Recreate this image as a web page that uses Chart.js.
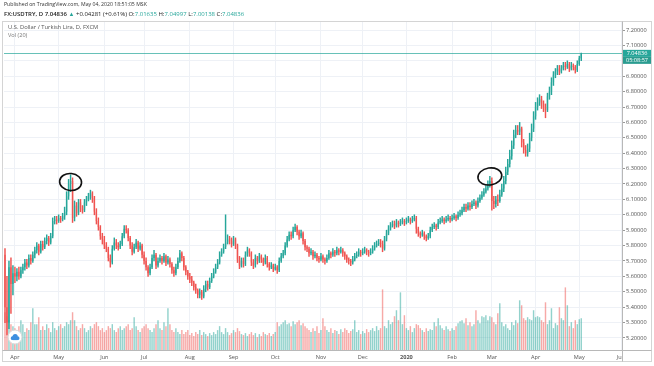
<!DOCTYPE html>
<html>
<head>
<meta charset="utf-8">
<script src="https://cdn.jsdelivr.net/npm/chart.js@4.4.1/dist/chart.umd.min.js"></script>
<style>
  html, body { margin: 0; padding: 0; background: #fff; }
  #wrap { position: relative; width: 654px; height: 366px; overflow: hidden; font-family: "Open Sans", sans-serif; }
  #chart { position: absolute; left: 0; top: 0; }
  .txt { position: absolute; white-space: nowrap; line-height: 1; }
  #pub { left: 4px; top: 2px; font-size: 5.2px; color: #333; }
  #sym { left: 4px; top: 10.5px; font-size: 6px; color: #222; }
  #sym b { font-weight: 600; }
  .up { color: #26a69a; }
  #title { left: 8px; top: 25px; font-size: 5.8px; color: #555; }
  #vol { left: 8px; top: 32.5px; font-size: 5.6px; color: #777; }
</style>
</head>
<body>
<div id="wrap">
  <canvas id="chart" width="654" height="366"></canvas>
  <div class="txt" id="pub">Published on TradingView.com, May 04, 2020 18:51:05 MSK</div>
  <div class="txt" id="sym"><b>FX:USDTRY, D 7.04836</b> <span class="up">▲</span> +0.04281 (+0.61%) O:<span class="up">7.01635</span> H:<span class="up">7.04997</span> L:<span class="up">7.00138</span> C:<span class="up">7.04836</span></div>
  <div class="txt" id="title">U.S. Dollar / Turkish Lira, D, FXCM</div>
  <div class="txt" id="vol">Vol (20)</div>
</div>
<script>
// daily candles, Mar 25 2019 .. May 4 2020 (weekdays)
const opens = [
  5.74, 5.40, 5.30, 5.66, 5.55, 5.62, 5.60, 5.63, 5.60, 5.64,
  5.66, 5.69, 5.67, 5.72, 5.70, 5.74, 5.77, 5.80, 5.76, 5.81,
  5.79, 5.83, 5.85, 5.82, 5.86, 5.96, 5.97, 5.96, 5.98, 5.97,
  5.99, 6.02, 6.12, 6.20, 6.22, 5.98, 6.06, 6.01, 6.08, 6.04,
  6.03, 6.08, 6.10, 6.12, 6.14, 6.11, 6.02, 5.96, 5.92, 5.86,
  5.84, 5.80, 5.78, 5.72, 5.69, 5.78, 5.82, 5.80, 5.79, 5.81,
  5.86, 5.91, 5.90, 5.85, 5.80, 5.76, 5.79, 5.82, 5.78, 5.80,
  5.74, 5.70, 5.66, 5.62, 5.66, 5.72, 5.74, 5.67, 5.70, 5.72,
  5.70, 5.73, 5.69, 5.71, 5.68, 5.64, 5.62, 5.66, 5.70, 5.75,
  5.72, 5.66, 5.63, 5.60, 5.58, 5.56, 5.53, 5.51, 5.48, 5.50,
  5.47, 5.52, 5.55, 5.53, 5.57, 5.60, 5.63, 5.66, 5.69, 5.74,
  5.76, 5.79, 5.82, 5.84, 5.83, 5.81, 5.84, 5.80, 5.71, 5.67,
  5.70, 5.68, 5.74, 5.77, 5.75, 5.69, 5.67, 5.72, 5.70, 5.73,
  5.71, 5.69, 5.72, 5.68, 5.66, 5.67, 5.65, 5.66, 5.64, 5.70,
  5.73, 5.75, 5.80, 5.84, 5.87, 5.86, 5.90, 5.92, 5.89, 5.86,
  5.88, 5.83, 5.79, 5.78, 5.75, 5.76, 5.73, 5.74, 5.72, 5.71,
  5.73, 5.71, 5.70, 5.72, 5.75, 5.74, 5.76, 5.75, 5.77, 5.76,
  5.77, 5.75, 5.73, 5.71, 5.70, 5.69, 5.71, 5.73, 5.74, 5.76,
  5.75, 5.76, 5.77, 5.76, 5.75, 5.76, 5.78, 5.80, 5.81, 5.82,
  5.81, 5.78, 5.84, 5.88, 5.91, 5.93, 5.94, 5.93, 5.95, 5.94,
  5.95, 5.96, 5.95, 5.96, 5.97, 5.96, 5.97, 5.98, 5.91, 5.88,
  5.87, 5.88, 5.86, 5.85, 5.86, 5.90, 5.92, 5.93, 5.92, 5.95,
  5.96, 5.97, 5.96, 5.97, 5.98, 5.97, 5.98, 5.99, 5.98, 6.00,
  6.01, 6.03, 6.05, 6.04, 6.06, 6.05, 6.07, 6.08, 6.06, 6.09,
  6.11, 6.13, 6.15, 6.17, 6.20, 6.22, 6.09, 6.07, 6.10, 6.09,
  6.13, 6.17, 6.22, 6.28, 6.33, 6.38, 6.45, 6.52, 6.55, 6.54,
  6.56, 6.47, 6.42, 6.40, 6.43, 6.50, 6.56, 6.64, 6.70, 6.73,
  6.75, 6.72, 6.70, 6.68, 6.77, 6.80, 6.86, 6.91, 6.93, 6.95,
  6.93, 6.95, 6.97, 6.96, 6.98, 6.95, 6.97, 6.96, 6.94, 6.98, 7.016,
];
const highs = [
  5.78, 5.60, 5.70, 5.72, 5.67, 5.66, 5.65, 5.66, 5.66, 5.68,
  5.71, 5.71, 5.74, 5.74, 5.76, 5.79, 5.82, 5.81, 5.83, 5.83,
  5.85, 5.87, 5.86, 5.88, 5.98, 5.99, 5.99, 6.00, 5.99, 6.01,
  6.05, 6.15, 6.23, 6.26, 6.24, 6.09, 6.08, 6.10, 6.10, 6.06,
  6.10, 6.12, 6.14, 6.16, 6.15, 6.12, 6.04, 5.98, 5.93, 5.88,
  5.86, 5.82, 5.79, 5.74, 5.80, 5.85, 5.84, 5.82, 5.83, 5.88,
  5.93, 5.93, 5.91, 5.86, 5.82, 5.81, 5.84, 5.83, 5.82, 5.81,
  5.76, 5.72, 5.67, 5.68, 5.74, 5.77, 5.75, 5.72, 5.74, 5.73,
  5.75, 5.74, 5.73, 5.72, 5.69, 5.66, 5.68, 5.72, 5.77, 5.76,
  5.73, 5.67, 5.64, 5.62, 5.60, 5.57, 5.55, 5.52, 5.52, 5.51,
  5.54, 5.57, 5.57, 5.59, 5.62, 5.65, 5.68, 5.71, 5.76, 5.78,
  5.81, 6.00, 5.87, 5.86, 5.85, 5.86, 5.85, 5.81, 5.73, 5.72,
  5.72, 5.76, 5.79, 5.78, 5.76, 5.71, 5.74, 5.73, 5.75, 5.74,
  5.72, 5.74, 5.73, 5.69, 5.69, 5.68, 5.68, 5.67, 5.72, 5.75,
  5.77, 5.82, 5.86, 5.89, 5.89, 5.92, 5.94, 5.93, 5.90, 5.90,
  5.89, 5.84, 5.80, 5.79, 5.78, 5.77, 5.76, 5.75, 5.73, 5.75,
  5.74, 5.72, 5.74, 5.77, 5.76, 5.78, 5.77, 5.79, 5.78, 5.79,
  5.78, 5.76, 5.74, 5.72, 5.71, 5.73, 5.75, 5.76, 5.78, 5.77,
  5.78, 5.79, 5.78, 5.77, 5.78, 5.80, 5.82, 5.83, 5.84, 5.84,
  5.83, 5.86, 5.90, 5.93, 5.95, 5.96, 5.96, 5.97, 5.96, 5.97,
  5.98, 5.97, 5.98, 5.99, 5.98, 5.99, 6.00, 5.99, 5.92, 5.89,
  5.90, 5.89, 5.87, 5.88, 5.92, 5.94, 5.95, 5.94, 5.97, 5.98,
  5.99, 5.98, 5.99, 6.00, 5.99, 6.00, 6.01, 6.00, 6.02, 6.03,
  6.05, 6.07, 6.07, 6.08, 6.08, 6.09, 6.10, 6.09, 6.11, 6.13,
  6.15, 6.17, 6.19, 6.22, 6.25, 6.24, 6.12, 6.12, 6.13, 6.16,
  6.20, 6.25, 6.31, 6.36, 6.42, 6.48, 6.55, 6.58, 6.58, 6.60,
  6.57, 6.49, 6.45, 6.46, 6.53, 6.59, 6.67, 6.73, 6.76, 6.78,
  6.77, 6.74, 6.72, 6.79, 6.83, 6.89, 6.93, 6.95, 6.97, 6.97,
  6.97, 6.99, 6.99, 7.00, 6.99, 6.99, 6.98, 6.97, 7.00, 7.03, 7.050,
];
const lows = [
  5.30, 5.22, 5.26, 5.36, 5.48, 5.56, 5.57, 5.58, 5.59, 5.62,
  5.64, 5.65, 5.66, 5.68, 5.69, 5.72, 5.75, 5.74, 5.75, 5.77,
  5.78, 5.81, 5.80, 5.81, 5.85, 5.94, 5.94, 5.95, 5.95, 5.96,
  5.97, 6.00, 6.10, 6.15, 5.95, 5.96, 5.99, 6.00, 6.02, 6.01,
  6.02, 6.06, 6.09, 6.10, 6.08, 6.00, 5.94, 5.90, 5.84, 5.81,
  5.78, 5.76, 5.70, 5.66, 5.68, 5.77, 5.78, 5.77, 5.78, 5.80,
  5.85, 5.88, 5.83, 5.78, 5.74, 5.75, 5.78, 5.76, 5.77, 5.72,
  5.68, 5.64, 5.60, 5.61, 5.65, 5.70, 5.65, 5.66, 5.69, 5.68,
  5.69, 5.67, 5.68, 5.66, 5.62, 5.60, 5.61, 5.65, 5.69, 5.70,
  5.64, 5.61, 5.58, 5.56, 5.54, 5.51, 5.49, 5.46, 5.46, 5.45,
  5.46, 5.50, 5.51, 5.52, 5.56, 5.59, 5.62, 5.65, 5.68, 5.73,
  5.75, 5.78, 5.81, 5.81, 5.79, 5.80, 5.78, 5.69, 5.65, 5.66,
  5.66, 5.67, 5.73, 5.73, 5.67, 5.65, 5.66, 5.68, 5.69, 5.69,
  5.67, 5.68, 5.66, 5.64, 5.65, 5.63, 5.64, 5.62, 5.63, 5.69,
  5.72, 5.74, 5.79, 5.83, 5.84, 5.85, 5.89, 5.87, 5.84, 5.85,
  5.81, 5.77, 5.76, 5.73, 5.74, 5.71, 5.72, 5.70, 5.69, 5.70,
  5.69, 5.68, 5.69, 5.71, 5.72, 5.73, 5.73, 5.74, 5.74, 5.75,
  5.73, 5.71, 5.69, 5.68, 5.67, 5.68, 5.70, 5.72, 5.73, 5.73,
  5.74, 5.75, 5.74, 5.73, 5.74, 5.75, 5.77, 5.79, 5.80, 5.79,
  5.76, 5.77, 5.83, 5.87, 5.90, 5.92, 5.91, 5.92, 5.92, 5.93,
  5.94, 5.93, 5.94, 5.95, 5.94, 5.95, 5.96, 5.88, 5.86, 5.85,
  5.86, 5.84, 5.83, 5.84, 5.85, 5.89, 5.91, 5.90, 5.91, 5.94,
  5.95, 5.94, 5.95, 5.96, 5.95, 5.96, 5.97, 5.96, 5.97, 5.99,
  6.00, 6.02, 6.02, 6.03, 6.03, 6.04, 6.06, 6.04, 6.05, 6.08,
  6.10, 6.12, 6.14, 6.16, 6.18, 6.03, 6.04, 6.05, 6.06, 6.08,
  6.12, 6.15, 6.20, 6.26, 6.31, 6.36, 6.43, 6.50, 6.52, 6.52,
  6.44, 6.40, 6.38, 6.38, 6.41, 6.48, 6.54, 6.62, 6.68, 6.71,
  6.69, 6.67, 6.63, 6.67, 6.75, 6.78, 6.84, 6.89, 6.91, 6.91,
  6.92, 6.94, 6.94, 6.95, 6.93, 6.94, 6.94, 6.92, 6.93, 6.97, 7.001,
];
const closes = [
  5.40, 5.30, 5.66, 5.55, 5.62, 5.60, 5.63, 5.60, 5.64, 5.66,
  5.69, 5.67, 5.72, 5.70, 5.74, 5.77, 5.80, 5.76, 5.81, 5.79,
  5.83, 5.85, 5.82, 5.86, 5.96, 5.97, 5.96, 5.98, 5.97, 5.99,
  6.02, 6.12, 6.20, 6.22, 5.98, 6.06, 6.01, 6.08, 6.04, 6.03,
  6.08, 6.10, 6.12, 6.14, 6.11, 6.02, 5.96, 5.92, 5.86, 5.84,
  5.80, 5.78, 5.72, 5.69, 5.78, 5.82, 5.80, 5.79, 5.81, 5.86,
  5.91, 5.90, 5.85, 5.80, 5.76, 5.79, 5.82, 5.78, 5.80, 5.74,
  5.70, 5.66, 5.62, 5.66, 5.72, 5.74, 5.67, 5.70, 5.72, 5.70,
  5.73, 5.69, 5.71, 5.68, 5.64, 5.62, 5.66, 5.70, 5.75, 5.72,
  5.66, 5.63, 5.60, 5.58, 5.56, 5.53, 5.51, 5.48, 5.50, 5.47,
  5.52, 5.55, 5.53, 5.57, 5.60, 5.63, 5.66, 5.69, 5.74, 5.76,
  5.79, 5.82, 5.84, 5.83, 5.81, 5.84, 5.80, 5.71, 5.67, 5.70,
  5.68, 5.74, 5.77, 5.75, 5.69, 5.67, 5.72, 5.70, 5.73, 5.71,
  5.69, 5.72, 5.68, 5.66, 5.67, 5.65, 5.66, 5.64, 5.70, 5.73,
  5.75, 5.80, 5.84, 5.87, 5.86, 5.90, 5.92, 5.89, 5.86, 5.88,
  5.83, 5.79, 5.78, 5.75, 5.76, 5.73, 5.74, 5.72, 5.71, 5.73,
  5.71, 5.70, 5.72, 5.75, 5.74, 5.76, 5.75, 5.77, 5.76, 5.77,
  5.75, 5.73, 5.71, 5.70, 5.69, 5.71, 5.73, 5.74, 5.76, 5.75,
  5.76, 5.77, 5.76, 5.75, 5.76, 5.78, 5.80, 5.81, 5.82, 5.81,
  5.78, 5.84, 5.88, 5.91, 5.93, 5.94, 5.93, 5.95, 5.94, 5.95,
  5.96, 5.95, 5.96, 5.97, 5.96, 5.97, 5.98, 5.91, 5.88, 5.87,
  5.88, 5.86, 5.85, 5.86, 5.90, 5.92, 5.93, 5.92, 5.95, 5.96,
  5.97, 5.96, 5.97, 5.98, 5.97, 5.98, 5.99, 5.98, 6.00, 6.01,
  6.03, 6.05, 6.04, 6.06, 6.05, 6.07, 6.08, 6.06, 6.09, 6.11,
  6.13, 6.15, 6.17, 6.20, 6.22, 6.09, 6.07, 6.10, 6.09, 6.13,
  6.17, 6.22, 6.28, 6.33, 6.38, 6.45, 6.52, 6.55, 6.54, 6.56,
  6.47, 6.42, 6.40, 6.43, 6.50, 6.56, 6.64, 6.70, 6.73, 6.75,
  6.72, 6.70, 6.68, 6.77, 6.80, 6.86, 6.91, 6.93, 6.95, 6.93,
  6.95, 6.97, 6.96, 6.98, 6.95, 6.97, 6.96, 6.94, 6.98, 7.016, 7.048,
];
// Vol (20) pane, relative units
const volumes = [
  38, 34, 30, 26, 24, 22, 20, 24, 30, 26,
  18, 22, 20, 28, 42, 26, 26, 33, 20, 24,
  20, 26, 22, 18, 28, 22, 20, 24, 26, 22,
  24, 28, 26, 30, 38, 30, 24, 20, 22, 26,
  22, 18, 20, 24, 22, 26, 28, 24, 20, 22,
  18, 20, 24, 22, 26, 20, 18, 22, 24, 20,
  22, 24, 26, 20, 22, 33, 24, 20, 18, 22,
  24, 26, 22, 20, 18, 22, 26, 30, 22, 20,
  28, 24, 42, 26, 20, 18, 22, 18, 16, 20,
  16, 18, 20, 15, 17, 14, 18, 16, 20, 15,
  18, 16, 14, 17, 15, 18, 16, 20, 24, 18,
  16, 22, 18, 15, 17, 20, 18, 22, 19, 16,
  15, 17, 14, 16, 18, 15, 17, 13, 16, 14,
  18, 16, 15, 17, 14, 16, 18, 28, 24, 26,
  28, 30, 26, 27, 24, 29, 26, 28, 30, 25,
  27, 24, 22, 20, 18, 22, 19, 24, 17, 20,
  32, 24, 20, 18, 22, 17, 20, 19, 16, 21,
  18, 22, 20, 17, 19, 21, 30, 18, 20, 16,
  19, 17, 21, 18, 20, 22, 19, 24, 20, 22,
  61, 24, 22, 30, 26, 28, 34, 40, 30, 58,
  26, 35, 22, 20, 24, 18, 22, 26, 25, 22,
  20, 18, 22, 19, 21, 20, 28, 24, 32, 25,
  22, 20, 24, 21, 19, 22, 20, 24, 27, 29,
  30, 27, 32, 25, 28, 24, 26, 40, 30, 27,
  34, 33, 35, 30, 34, 33, 28, 26, 37, 47,
  28, 24, 26, 22, 20, 28, 25, 30, 27, 50,
  45, 32, 30, 33, 31, 30, 40, 33, 34, 33,
  30, 28, 48, 26, 30, 42, 22, 27, 25, 43,
  32, 30, 63, 45, 24, 28, 22, 30, 26, 31, 32,
];

// time axis: one slot per weekday, with room up to Jun 1 2020
const slotCount = 311;
const monthNames = ["Apr", "May", "Jun", "Jul", "Aug", "Sep", "Oct", "Nov", "Dec", "2020", "Feb", "Mar", "Apr", "May", "Jun"];
const monthSlots = [5, 27, 50, 70, 93, 115, 136, 159, 180, 202, 225, 245, 267, 289, 310];

const priceTicks = { min: 5.2, max: 7.2, step: 0.1 };
const lastPrice = 7.04836;
const countdown = "05:08:57";
// the two hand-drawn circles: [slot, price]
const circles = [[33, 6.213], [244, 6.249]];

const UP = "#26a69a";
const DOWN = "#ef5350";
const UP_VOL = "rgba(38,166,154,0.5)";
const DOWN_VOL = "rgba(239,83,80,0.5)";

const isUp = closes.map((c, i) => c >= opens[i]);
const candleColors = isUp.map((u) => (u ? UP : DOWN));
const volColors = isUp.map((u) => (u ? UP_VOL : DOWN_VOL));

const monthAt = {};
monthSlots.forEach((s, i) => { monthAt[s] = monthNames[i]; });

Chart.defaults.font.family = "'Open Sans', sans-serif";
Chart.defaults.font.size = 5.6;
Chart.defaults.color = "#555";

const decor = {
  id: "decor",
  beforeDatasetsDraw(chart) {
    const { ctx, chartArea: a, scales } = chart;
    const y = Math.round(scales.y.getPixelForValue(lastPrice)) + 0.5;
    ctx.save();
    ctx.strokeStyle = "rgba(38,166,154,0.7)";
    ctx.lineWidth = 1;
    ctx.beginPath();
    ctx.moveTo(a.left, y);
    ctx.lineTo(a.right, y);
    ctx.stroke();
    ctx.restore();
  },
  afterDraw(chart) {
    const { ctx, chartArea: a, scales } = chart;
    ctx.save();

    // hand-drawn circles
    ctx.strokeStyle = "#111";
    ctx.lineWidth = 1.6;
    circles.forEach(([slot, v], k) => {
      const cx = scales.x.getPixelForValue(slot);
      const cy = scales.y.getPixelForValue(v);
      ctx.beginPath();
      ctx.ellipse(cx, cy, k ? 12 : 11, 8.5, k ? -0.15 : 0.1, 0, Math.PI * 2);
      ctx.stroke();
    });

    // price-scale corner panel hides the clipped month label
    ctx.fillStyle = "#fff";
    ctx.fillRect(a.right + 1, a.bottom + 1, 654 - a.right, 366 - a.bottom);

    // frame and pane separators
    ctx.strokeStyle = "#d4d4d4";
    ctx.lineWidth = 1;
    ctx.strokeRect(2.5, 21.5, 649, 340);
    ctx.strokeStyle = "#b8b8b8";
    ctx.beginPath();
    ctx.moveTo(a.right + 0.5, 21.5);
    ctx.lineTo(a.right + 0.5, 361.5);
    ctx.moveTo(2.5, a.bottom + 0.5);
    ctx.lineTo(651.5, a.bottom + 0.5);
    ctx.stroke();

    // last price label
    const py = scales.y.getPixelForValue(lastPrice);
    ctx.fillStyle = UP;
    ctx.fillRect(a.right + 1, py - 3.5, 28, 7);
    ctx.fillStyle = "#2a9c90";
    ctx.fillRect(a.right + 1, py + 3.5, 28, 7);
    ctx.fillStyle = "#fff";
    ctx.font = "5.6px 'Open Sans', sans-serif";
    ctx.textAlign = "center";
    ctx.textBaseline = "middle";
    ctx.fillText(lastPrice.toFixed(5), a.right + 15, py);
    ctx.fillText(countdown, a.right + 15, py + 7);

    // TradingView badge
    ctx.fillStyle = "#fff";
    ctx.strokeStyle = "#d8d8d8";
    ctx.beginPath();
    ctx.arc(15, 337, 7, 0, Math.PI * 2);
    ctx.fill();
    ctx.stroke();
    ctx.fillStyle = "#3d8fe0";
    ctx.beginPath();
    ctx.arc(12.6, 338.2, 1.9, 0, Math.PI * 2);
    ctx.arc(15.2, 336.6, 2.6, 0, Math.PI * 2);
    ctx.arc(17.6, 338.2, 1.9, 0, Math.PI * 2);
    ctx.fill();
    ctx.fillRect(12.6, 338.2, 5, 1.9);
    ctx.restore();
  },
};

new Chart(document.getElementById("chart"), {
  type: "bar",
  data: {
    labels: Array.from({ length: slotCount }, (_, i) => i),
    datasets: [
      {
        label: "Body",
        data: opens.map((o, i) => [o, closes[i]]),
        backgroundColor: candleColors,
        barPercentage: 0.62,
        categoryPercentage: 1,
        minBarLength: 1,
        grouped: false,
        order: 1,
      },
      {
        label: "Wick",
        data: lows.map((l, i) => [l, highs[i]]),
        backgroundColor: candleColors,
        barThickness: 0.8,
        grouped: false,
        order: 2,
      },
      {
        label: "Vol",
        data: volumes,
        yAxisID: "yv",
        backgroundColor: volColors,
        barPercentage: 0.72,
        categoryPercentage: 1,
        grouped: false,
        order: 3,
      },
    ],
  },
  options: {
    responsive: false,
    animation: false,
    devicePixelRatio: 1,
    layout: { padding: { top: 22, left: 4, right: 0, bottom: 0 } },
    plugins: { legend: { display: false }, tooltip: { enabled: false } },
    scales: {
      x: {
        offset: true,
        grid: {
          offset: false,
          drawTicks: false,
          color: (c) => (monthAt[c.index] ? "#eef1f6" : "transparent"),
        },
        border: { display: false },
        ticks: {
          autoSkip: false,
          maxRotation: 0,
          minRotation: 0,
          padding: 4,
          color: "#555",
          font: (c) => ({ size: 5.6, weight: c.index === 202 ? "bold" : "normal" }),
          callback: (v, i) => monthAt[i] || "",
        },
        afterFit: (s) => { s.height = 16; },
      },
      y: {
        position: "right",
        min: 5.122,
        max: 7.252,
        grid: { color: "#eef1f6", tickColor: "#999", tickLength: 3 },
        border: { display: false },
        ticks: {
          stepSize: priceTicks.step,
          includeBounds: false,
          padding: 1,
          color: "#555",
          callback: (v) => v.toFixed(5),
        },
        afterFit: (s) => { s.width = 32; },
      },
      yv: { display: false, min: 0, max: 330 },
    },
  },
  plugins: [decor],
});
</script>
</body>
</html>
